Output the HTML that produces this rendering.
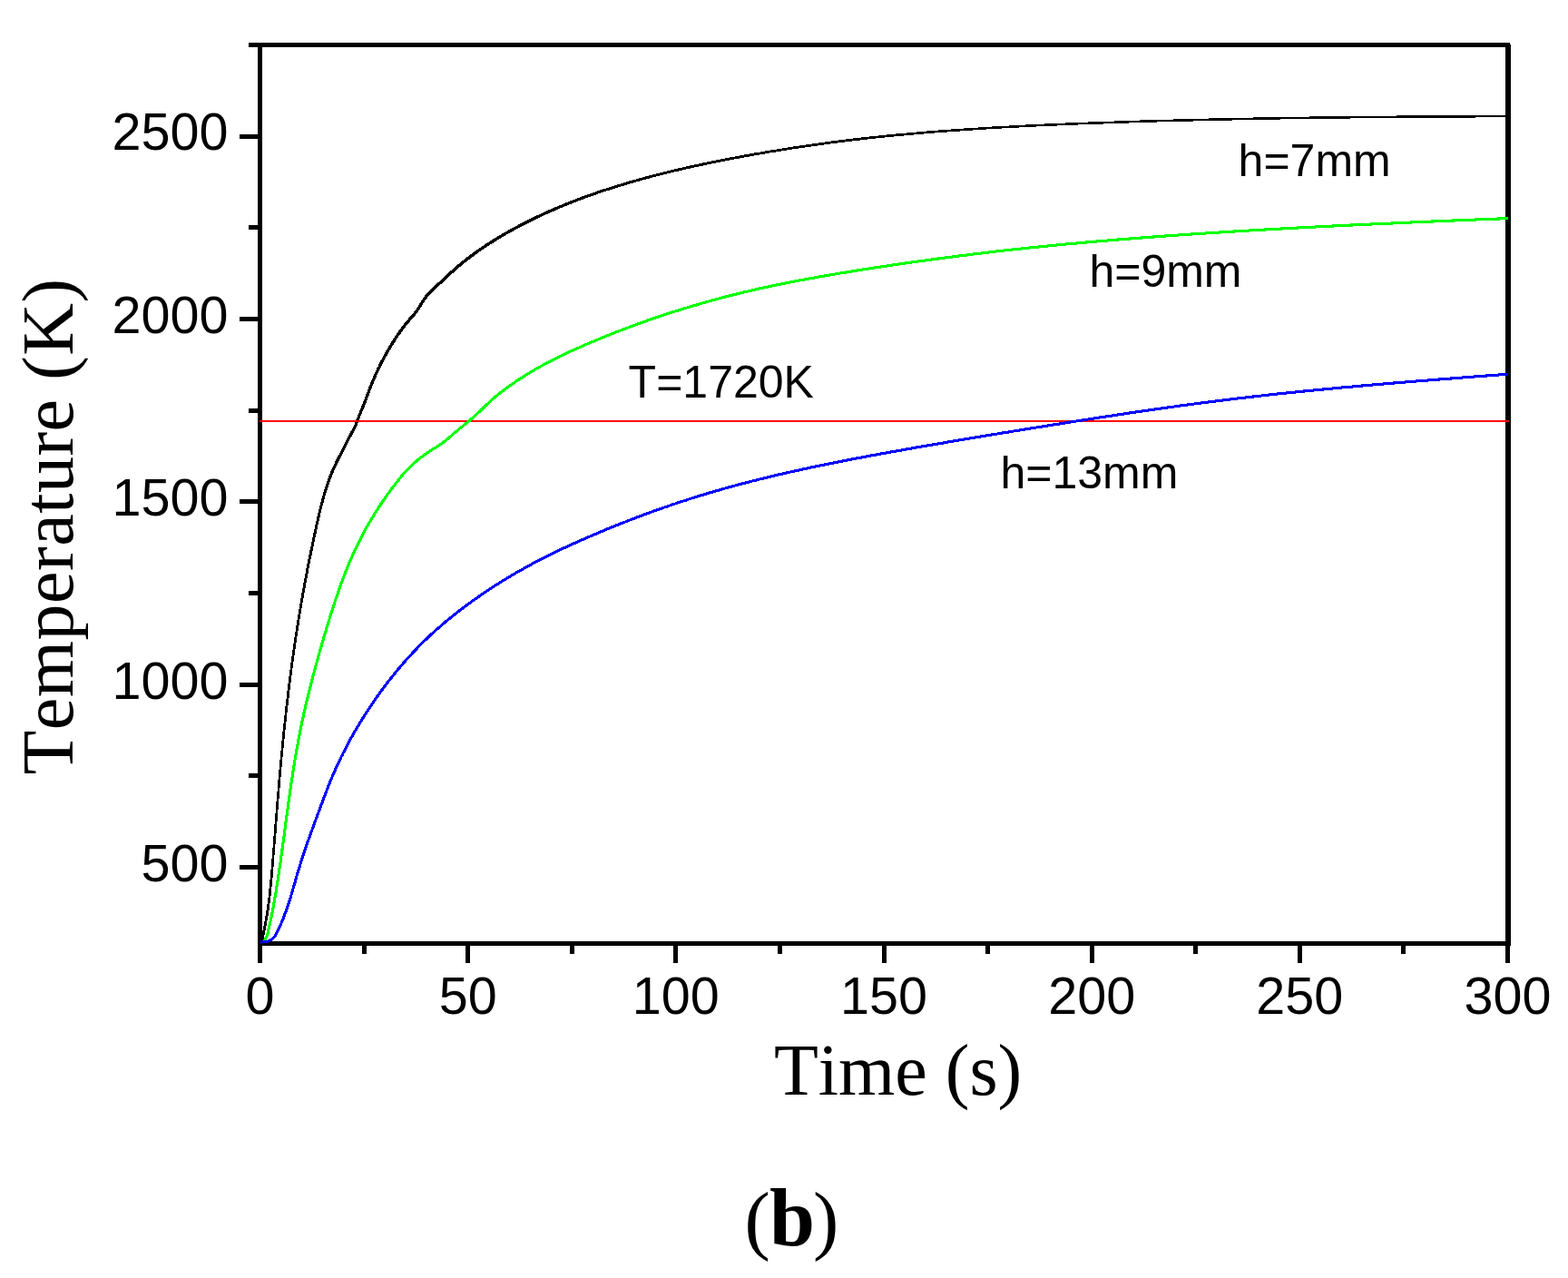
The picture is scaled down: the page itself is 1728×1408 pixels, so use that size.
<!DOCTYPE html>
<html lang="en">
<head>
<meta charset="utf-8">
<title>Temperature vs Time (b)</title>
<style>
html,body{margin:0;padding:0;background:#fff;}
body{width:1728px;height:1408px;overflow:hidden;}
svg{display:block;}
.tick{font-family:"Liberation Sans",Arial,Helvetica,sans-serif;font-size:57.5px;fill:#000;}
.ann{font-family:"Liberation Sans",Arial,Helvetica,sans-serif;font-size:50px;fill:#000;}
.axl{font-family:"Liberation Serif","Times New Roman",Times,serif;font-size:80px;fill:#000;font-kerning:none;}
.cap{font-family:"Liberation Serif","Times New Roman",Times,serif;font-size:86px;fill:#000;}
</style>
</head>
<body>
<svg xmlns="http://www.w3.org/2000/svg" width="1728" height="1408" viewBox="0 0 1728 1408">
<rect x="0" y="0" width="1728" height="1408" fill="#ffffff"/>
<g fill="#000" shape-rendering="crispEdges">
<rect x="284" y="47" width="5" height="1014"/>
<rect x="274" y="47" width="1390" height="5"/>
<rect x="284" y="1037" width="1381" height="5"/>
<rect x="1659" y="49" width="6" height="991"/>
<rect x="284" y="1040" width="5" height="21"/>
<rect x="399" y="1040" width="5" height="11"/>
<rect x="513" y="1040" width="5" height="21"/>
<rect x="628" y="1040" width="5" height="11"/>
<rect x="742" y="1040" width="5" height="21"/>
<rect x="857" y="1040" width="5" height="11"/>
<rect x="972" y="1040" width="5" height="21"/>
<rect x="1086" y="1040" width="5" height="11"/>
<rect x="1201" y="1040" width="5" height="21"/>
<rect x="1315" y="1040" width="5" height="11"/>
<rect x="1430" y="1040" width="5" height="21"/>
<rect x="1544" y="1040" width="5" height="11"/>
<rect x="1659" y="1040" width="5" height="21"/>
<rect x="264" y="953" width="22" height="5"/>
<rect x="274" y="852" width="12" height="5"/>
<rect x="264" y="752" width="22" height="5"/>
<rect x="274" y="651" width="12" height="5"/>
<rect x="264" y="550" width="22" height="5"/>
<rect x="274" y="450" width="12" height="5"/>
<rect x="264" y="349" width="22" height="5"/>
<rect x="274" y="248" width="12" height="5"/>
<rect x="264" y="148" width="22" height="5"/>
<rect x="274" y="47" width="12" height="5"/>
</g>
<g fill="none" stroke-linejoin="round" stroke-linecap="butt" shape-rendering="crispEdges">
<path fill="#000000" stroke="none" d="M287.4,1038.8 L287.4,1036.3 L287.9,1033.5 L288.4,1030.7 L288.9,1027.9 L289.4,1025.1 L290.0,1022.3 L290.5,1019.6 L291.1,1016.8 L291.6,1014.0 L292.1,1011.2 L292.6,1008.4 L293.1,1005.6 L293.5,1002.9 L294.0,1000.1 L294.4,997.3 L294.7,994.4 L295.1,991.6 L295.5,988.8 L295.8,986.0 L296.1,983.2 L296.4,980.4 L296.7,977.6 L297.0,974.8 L297.3,971.9 L297.5,969.1 L297.8,966.3 L298.1,963.5 L298.3,960.7 L298.5,957.8 L298.8,955.0 L299.0,952.2 L299.2,949.4 L299.5,946.5 L299.7,943.7 L299.9,940.9 L300.2,938.1 L300.4,935.3 L300.6,932.4 L300.8,929.6 L301.1,926.8 L301.3,924.0 L301.5,921.1 L301.7,918.3 L302.0,915.5 L302.2,912.7 L302.4,909.9 L302.6,907.0 L302.9,904.2 L303.1,901.4 L303.3,898.6 L303.5,895.8 L303.8,892.9 L304.0,890.1 L304.2,887.3 L304.4,884.5 L304.7,881.7 L304.9,878.8 L305.1,876.0 L305.4,873.2 L305.6,870.4 L305.8,867.6 L306.1,864.7 L306.3,861.9 L306.5,859.1 L306.8,856.3 L307.0,853.5 L307.3,850.6 L307.5,847.8 L307.8,845.0 L308.0,842.2 L308.3,839.4 L308.6,836.5 L308.8,833.7 L309.1,830.9 L309.4,828.1 L309.6,825.3 L309.9,822.4 L310.2,819.6 L310.4,816.8 L310.7,814.0 L311.0,811.2 L311.3,808.3 L311.6,805.5 L311.9,802.7 L312.2,799.9 L312.5,797.1 L312.8,794.3 L313.1,791.4 L313.4,788.6 L313.7,785.8 L314.0,783.0 L314.3,780.2 L314.6,777.4 L315.0,774.5 L315.3,771.7 L315.6,768.9 L316.0,766.1 L316.3,763.3 L316.6,760.5 L317.0,757.7 L317.3,754.9 L317.7,752.0 L318.0,749.2 L318.4,746.4 L318.7,743.6 L319.1,740.8 L319.5,738.0 L319.8,735.2 L320.2,732.4 L320.6,729.6 L321.0,726.8 L321.4,724.0 L321.8,721.2 L322.2,718.4 L322.6,715.6 L323.0,712.7 L323.4,709.9 L323.8,707.1 L324.2,704.3 L324.6,701.5 L325.0,698.7 L325.5,696.0 L325.9,693.2 L326.3,690.4 L326.8,687.6 L327.2,684.8 L327.7,682.0 L328.1,679.2 L328.6,676.4 L329.0,673.6 L329.5,670.8 L330.0,668.0 L330.4,665.2 L330.9,662.5 L331.4,659.7 L331.9,656.9 L332.4,654.1 L332.9,651.3 L333.4,648.5 L333.9,645.8 L334.4,643.0 L334.9,640.2 L335.4,637.4 L336.0,634.6 L336.5,631.9 L337.0,629.1 L337.5,626.3 L338.1,623.5 L338.6,620.8 L339.2,618.0 L339.7,615.2 L340.3,612.4 L340.9,609.7 L341.4,606.9 L342.0,604.1 L342.6,601.3 L343.1,598.6 L343.7,595.8 L344.3,593.0 L344.9,590.3 L345.5,587.5 L346.1,584.7 L346.7,581.9 L347.3,579.2 L347.9,576.4 L348.5,573.6 L349.2,570.9 L349.8,568.1 L350.4,565.3 L351.1,562.6 L351.8,559.8 L352.4,557.1 L353.1,554.3 L353.9,551.6 L354.6,548.9 L355.4,546.1 L356.1,543.4 L356.9,540.7 L357.8,538.0 L358.6,535.3 L359.5,532.6 L360.5,530.0 L361.4,527.3 L362.4,524.7 L363.5,522.0 L364.5,519.4 L365.6,516.8 L366.8,514.2 L368.0,511.6 L369.2,509.1 L370.4,506.5 L371.7,504.0 L373.0,501.5 L374.3,499.0 L375.7,496.5 L377.0,494.0 L378.2,491.5 L379.4,488.9 L380.7,486.3 L381.9,483.8 L383.2,481.3 L384.6,478.8 L386.0,476.4 L387.4,473.9 L388.8,471.4 L390.0,468.9 L391.1,466.3 L392.1,463.6 L393.0,461.0 L394.0,458.3 L395.0,455.7 L396.1,453.1 L397.2,450.4 L398.3,447.8 L399.4,445.2 L400.4,442.6 L401.4,440.0 L402.4,437.3 L403.4,434.7 L404.4,432.0 L405.4,429.4 L406.4,426.8 L407.4,424.1 L408.5,421.5 L409.6,418.9 L410.7,416.3 L411.8,413.7 L412.9,411.1 L414.1,408.5 L415.3,405.9 L416.6,403.4 L417.8,400.8 L419.1,398.3 L420.4,395.8 L421.7,393.3 L423.1,390.8 L424.5,388.3 L425.9,385.8 L427.3,383.4 L428.7,381.0 L430.2,378.5 L431.7,376.1 L433.2,373.8 L434.7,371.4 L436.3,369.0 L437.8,366.7 L439.5,364.4 L441.1,362.1 L442.8,359.9 L444.5,357.6 L446.2,355.4 L448.0,353.2 L449.9,351.1 L451.7,348.9 L453.6,346.8 L455.5,344.6 L457.2,342.4 L458.9,340.1 L460.5,337.8 L462.0,335.3 L463.4,332.9 L464.9,330.5 L466.5,328.1 L468.1,325.9 L469.9,323.7 L471.8,321.6 L473.8,319.6 L475.8,317.6 L477.9,315.6 L480.0,313.7 L482.1,311.8 L484.2,309.9 L486.3,307.9 L488.3,306.0 L490.4,304.1 L492.5,302.2 L494.6,300.2 L496.7,298.3 L498.8,296.5 L500.9,294.6 L503.0,292.7 L505.2,290.9 L507.4,289.1 L509.6,287.3 L511.8,285.5 L514.0,283.8 L516.2,282.1 L518.5,280.4 L520.8,278.7 L523.1,277.0 L525.4,275.4 L527.7,273.8 L530.0,272.2 L532.4,270.6 L534.7,269.0 L537.1,267.5 L539.5,266.0 L541.9,264.5 L544.3,263.0 L546.7,261.5 L549.2,260.0 L551.6,258.6 L554.0,257.1 L556.5,255.7 L559.0,254.3 L561.4,252.9 L563.9,251.6 L566.4,250.2 L568.9,248.9 L571.4,247.5 L573.9,246.2 L576.4,244.9 L578.9,243.6 L581.4,242.4 L584.0,241.1 L586.5,239.9 L589.1,238.6 L591.6,237.4 L594.2,236.2 L596.7,235.0 L599.3,233.8 L601.9,232.7 L604.5,231.5 L607.1,230.4 L609.7,229.3 L612.3,228.1 L614.9,227.0 L617.5,225.9 L620.1,224.9 L622.7,223.8 L625.4,222.7 L628.0,221.7 L630.6,220.7 L633.3,219.6 L635.9,218.6 L638.6,217.6 L641.2,216.6 L643.9,215.7 L646.5,214.7 L649.2,213.7 L651.9,212.8 L654.6,211.9 L657.2,210.9 L659.9,210.0 L662.6,209.1 L665.3,208.2 L668.0,207.4 L670.7,206.5 L673.4,205.6 L676.1,204.8 L678.8,203.9 L681.5,203.1 L684.2,202.3 L686.9,201.4 L689.6,200.6 L692.3,199.8 L695.0,199.0 L697.8,198.3 L700.5,197.5 L703.2,196.7 L705.9,196.0 L708.7,195.2 L711.4,194.5 L714.1,193.7 L716.9,193.0 L719.6,192.3 L722.3,191.6 L725.1,190.9 L727.8,190.2 L730.6,189.5 L733.3,188.8 L736.1,188.2 L738.8,187.5 L741.6,186.8 L744.3,186.2 L747.1,185.5 L749.9,184.9 L752.6,184.3 L755.4,183.6 L758.1,183.0 L760.9,182.4 L763.7,181.8 L766.4,181.2 L769.2,180.6 L772.0,180.0 L774.7,179.4 L777.5,178.8 L780.3,178.3 L783.1,177.7 L785.8,177.1 L788.6,176.6 L791.4,176.0 L794.2,175.5 L796.9,174.9 L799.7,174.4 L802.5,173.9 L805.3,173.3 L808.1,172.8 L810.8,172.3 L813.6,171.8 L816.4,171.2 L819.2,170.7 L822.0,170.2 L824.8,169.7 L827.6,169.2 L830.3,168.7 L833.1,168.2 L835.9,167.8 L838.7,167.3 L841.5,166.8 L844.3,166.3 L847.1,165.8 L849.9,165.4 L852.7,164.9 L855.5,164.5 L858.3,164.0 L861.1,163.6 L863.9,163.1 L866.6,162.7 L869.4,162.2 L872.2,161.8 L875.0,161.4 L877.8,160.9 L880.6,160.5 L883.4,160.1 L886.2,159.7 L889.0,159.3 L891.8,158.9 L894.7,158.5 L897.5,158.1 L900.3,157.7 L903.1,157.3 L905.9,156.9 L908.7,156.5 L911.5,156.2 L914.3,155.8 L917.1,155.4 L919.9,155.1 L922.7,154.7 L925.5,154.3 L928.3,154.0 L931.1,153.7 L933.9,153.3 L936.8,153.0 L939.6,152.6 L942.4,152.3 L945.2,152.0 L948.0,151.7 L950.8,151.3 L953.6,151.0 L956.4,150.7 L959.3,150.4 L962.1,150.1 L964.9,149.8 L967.7,149.5 L970.5,149.2 L973.3,148.9 L976.2,148.6 L979.0,148.3 L981.8,148.1 L984.6,147.8 L987.4,147.5 L990.2,147.2 L993.1,147.0 L995.9,146.7 L998.7,146.5 L1001.5,146.2 L1004.3,146.0 L1007.2,145.7 L1010.0,145.5 L1012.8,145.2 L1015.6,145.0 L1018.4,144.7 L1021.3,144.5 L1024.1,144.3 L1026.9,144.1 L1029.7,143.8 L1032.6,143.6 L1035.4,143.4 L1038.2,143.2 L1041.0,143.0 L1043.8,142.8 L1046.7,142.6 L1049.5,142.3 L1052.3,142.1 L1055.1,142.0 L1058.0,141.8 L1060.8,141.6 L1063.6,141.4 L1066.4,141.2 L1069.3,141.0 L1072.1,140.8 L1074.9,140.6 L1077.7,140.5 L1080.6,140.3 L1083.4,140.1 L1086.2,139.9 L1089.1,139.8 L1091.9,139.6 L1094.7,139.4 L1097.5,139.3 L1100.4,139.1 L1103.2,138.9 L1106.0,138.8 L1108.8,138.6 L1111.7,138.5 L1114.5,138.3 L1117.3,138.2 L1120.1,138.0 L1123.0,137.9 L1125.8,137.7 L1128.6,137.6 L1131.5,137.4 L1134.3,137.3 L1137.1,137.2 L1139.9,137.0 L1142.8,136.9 L1145.6,136.8 L1148.4,136.6 L1151.3,136.5 L1154.1,136.4 L1156.9,136.2 L1159.7,136.1 L1162.6,136.0 L1165.4,135.9 L1168.2,135.7 L1171.1,135.6 L1173.9,135.5 L1176.7,135.4 L1179.5,135.3 L1182.4,135.2 L1185.2,135.0 L1188.0,134.9 L1190.9,134.8 L1193.7,134.7 L1196.5,134.6 L1199.3,134.5 L1202.2,134.4 L1205.0,134.3 L1207.8,134.2 L1210.7,134.1 L1213.5,134.0 L1216.3,133.9 L1219.1,133.8 L1222.0,133.7 L1224.8,133.6 L1227.6,133.5 L1230.5,133.4 L1233.3,133.3 L1236.1,133.2 L1239.0,133.1 L1241.8,133.0 L1244.6,132.9 L1247.4,132.8 L1250.3,132.7 L1253.1,132.6 L1255.9,132.5 L1258.8,132.4 L1261.6,132.4 L1264.4,132.3 L1267.3,132.2 L1270.1,132.1 L1272.9,132.0 L1275.7,131.9 L1278.6,131.9 L1281.4,131.8 L1284.2,131.7 L1287.1,131.6 L1289.9,131.5 L1292.7,131.5 L1295.6,131.4 L1298.4,131.3 L1301.2,131.2 L1304.0,131.2 L1306.9,131.1 L1309.7,131.0 L1312.5,131.0 L1315.4,130.9 L1318.2,130.8 L1321.0,130.7 L1323.9,130.7 L1326.7,130.6 L1329.5,130.5 L1332.3,130.5 L1335.2,130.4 L1338.0,130.3 L1340.8,130.3 L1343.7,130.2 L1346.5,130.2 L1349.3,130.1 L1352.2,130.0 L1355.0,130.0 L1357.8,129.9 L1360.7,129.9 L1363.5,129.8 L1366.3,129.8 L1369.1,129.7 L1372.0,129.6 L1374.8,129.6 L1377.6,129.5 L1380.5,129.5 L1383.3,129.4 L1386.1,129.4 L1389.0,129.3 L1391.8,129.3 L1394.6,129.2 L1397.5,129.2 L1400.3,129.1 L1403.1,129.1 L1405.9,129.0 L1408.8,129.0 L1411.6,128.9 L1414.4,128.9 L1417.3,128.9 L1420.1,128.8 L1422.9,128.8 L1425.8,128.7 L1428.6,128.7 L1431.4,128.6 L1434.3,128.6 L1437.1,128.6 L1439.9,128.5 L1442.7,128.5 L1445.6,128.4 L1448.4,128.4 L1451.2,128.4 L1454.1,128.3 L1456.9,128.3 L1459.7,128.3 L1462.6,128.2 L1465.4,128.2 L1468.2,128.2 L1471.1,128.1 L1473.9,128.1 L1476.7,128.1 L1479.6,128.0 L1482.4,128.0 L1485.2,128.0 L1488.0,127.9 L1490.9,127.9 L1493.7,127.9 L1496.5,127.8 L1499.4,127.8 L1502.2,127.8 L1505.0,127.8 L1507.9,127.7 L1510.7,127.7 L1513.5,127.7 L1516.4,127.7 L1519.2,127.6 L1522.0,127.6 L1524.9,127.6 L1527.7,127.6 L1530.5,127.5 L1533.3,127.5 L1536.2,127.5 L1539.0,127.5 L1541.8,127.4 L1544.7,127.4 L1547.5,127.4 L1550.3,127.4 L1553.2,127.4 L1556.0,127.3 L1558.8,127.3 L1561.7,127.3 L1564.5,127.3 L1567.3,127.3 L1570.2,127.2 L1573.0,127.2 L1575.8,127.2 L1578.6,127.2 L1581.5,127.2 L1584.3,127.2 L1587.1,127.1 L1590.0,127.1 L1592.8,127.1 L1595.6,127.1 L1598.5,127.1 L1601.3,127.1 L1604.1,127.0 L1607.0,127.0 L1609.8,127.0 L1612.6,127.0 L1615.5,127.0 L1618.3,127.0 L1621.1,127.0 L1623.9,127.0 L1626.8,126.9 L1629.6,126.9 L1632.4,126.9 L1635.3,126.9 L1638.1,126.9 L1640.9,126.9 L1643.8,126.9 L1646.6,126.9 L1649.4,126.8 L1652.3,126.8 L1655.1,126.8 L1657.9,126.8 L1660.7,126.8 L1663.2,126.8 L1663.2,129.3 L1660.4,129.3 L1657.6,129.3 L1654.8,129.3 L1651.9,129.3 L1649.1,129.4 L1646.3,129.4 L1643.4,129.4 L1640.6,129.4 L1637.8,129.4 L1634.9,129.4 L1632.1,129.4 L1629.3,129.4 L1626.4,129.5 L1623.6,129.5 L1620.8,129.5 L1618.0,129.5 L1615.1,129.5 L1612.3,129.5 L1609.5,129.5 L1606.6,129.5 L1603.8,129.6 L1601.0,129.6 L1598.1,129.6 L1595.3,129.6 L1592.5,129.6 L1589.6,129.6 L1586.8,129.7 L1584.0,129.7 L1581.1,129.7 L1578.3,129.7 L1575.5,129.7 L1572.7,129.7 L1569.8,129.8 L1567.0,129.8 L1564.2,129.8 L1561.3,129.8 L1558.5,129.8 L1555.7,129.9 L1552.8,129.9 L1550.0,129.9 L1547.2,129.9 L1544.3,129.9 L1541.5,130.0 L1538.7,130.0 L1535.8,130.0 L1533.0,130.0 L1530.2,130.1 L1527.4,130.1 L1524.5,130.1 L1521.7,130.1 L1518.9,130.2 L1516.0,130.2 L1513.2,130.2 L1510.4,130.2 L1507.5,130.3 L1504.7,130.3 L1501.9,130.3 L1499.0,130.3 L1496.2,130.4 L1493.4,130.4 L1490.5,130.4 L1487.7,130.5 L1484.9,130.5 L1482.1,130.5 L1479.2,130.6 L1476.4,130.6 L1473.6,130.6 L1470.7,130.7 L1467.9,130.7 L1465.1,130.7 L1462.2,130.8 L1459.4,130.8 L1456.6,130.8 L1453.7,130.9 L1450.9,130.9 L1448.1,130.9 L1445.2,131.0 L1442.4,131.0 L1439.6,131.1 L1436.8,131.1 L1433.9,131.1 L1431.1,131.2 L1428.3,131.2 L1425.4,131.3 L1422.6,131.3 L1419.8,131.4 L1416.9,131.4 L1414.1,131.4 L1411.3,131.5 L1408.4,131.5 L1405.6,131.6 L1402.8,131.6 L1400.0,131.7 L1397.1,131.7 L1394.3,131.8 L1391.5,131.8 L1388.6,131.9 L1385.8,131.9 L1383.0,132.0 L1380.1,132.0 L1377.3,132.1 L1374.5,132.1 L1371.6,132.2 L1368.8,132.3 L1366.0,132.3 L1363.2,132.4 L1360.3,132.4 L1357.5,132.5 L1354.7,132.5 L1351.8,132.6 L1349.0,132.7 L1346.2,132.7 L1343.3,132.8 L1340.5,132.8 L1337.7,132.9 L1334.8,133.0 L1332.0,133.0 L1329.2,133.1 L1326.4,133.2 L1323.5,133.2 L1320.7,133.3 L1317.9,133.4 L1315.0,133.5 L1312.2,133.5 L1309.4,133.6 L1306.5,133.7 L1303.7,133.7 L1300.9,133.8 L1298.1,133.9 L1295.2,134.0 L1292.4,134.0 L1289.6,134.1 L1286.7,134.2 L1283.9,134.3 L1281.1,134.4 L1278.2,134.4 L1275.4,134.5 L1272.6,134.6 L1269.8,134.7 L1266.9,134.8 L1264.1,134.9 L1261.3,134.9 L1258.4,135.0 L1255.6,135.1 L1252.8,135.2 L1249.9,135.3 L1247.1,135.4 L1244.3,135.5 L1241.5,135.6 L1238.6,135.7 L1235.8,135.8 L1233.0,135.9 L1230.1,136.0 L1227.3,136.1 L1224.5,136.2 L1221.6,136.3 L1218.8,136.4 L1216.0,136.5 L1213.2,136.6 L1210.3,136.7 L1207.5,136.8 L1204.7,136.9 L1201.8,137.0 L1199.0,137.1 L1196.2,137.2 L1193.4,137.3 L1190.5,137.4 L1187.7,137.5 L1184.9,137.7 L1182.0,137.8 L1179.2,137.9 L1176.4,138.0 L1173.6,138.1 L1170.7,138.2 L1167.9,138.4 L1165.1,138.5 L1162.2,138.6 L1159.4,138.7 L1156.6,138.9 L1153.8,139.0 L1150.9,139.1 L1148.1,139.3 L1145.3,139.4 L1142.4,139.5 L1139.6,139.7 L1136.8,139.8 L1134.0,139.9 L1131.1,140.1 L1128.3,140.2 L1125.5,140.4 L1122.6,140.5 L1119.8,140.7 L1117.0,140.8 L1114.2,141.0 L1111.3,141.1 L1108.5,141.3 L1105.7,141.4 L1102.9,141.6 L1100.0,141.8 L1097.2,141.9 L1094.4,142.1 L1091.6,142.3 L1088.7,142.4 L1085.9,142.6 L1083.1,142.8 L1080.2,143.0 L1077.4,143.1 L1074.6,143.3 L1071.8,143.5 L1068.9,143.7 L1066.1,143.9 L1063.3,144.1 L1060.5,144.3 L1057.6,144.5 L1054.8,144.6 L1052.0,144.8 L1049.2,145.1 L1046.3,145.3 L1043.5,145.5 L1040.7,145.7 L1037.9,145.9 L1035.1,146.1 L1032.2,146.3 L1029.4,146.6 L1026.6,146.8 L1023.8,147.0 L1020.9,147.2 L1018.1,147.5 L1015.3,147.7 L1012.5,148.0 L1009.7,148.2 L1006.8,148.5 L1004.0,148.7 L1001.2,149.0 L998.4,149.2 L995.6,149.5 L992.7,149.7 L989.9,150.0 L987.1,150.3 L984.3,150.6 L981.5,150.8 L978.7,151.1 L975.8,151.4 L973.0,151.7 L970.2,152.0 L967.4,152.3 L964.6,152.6 L961.8,152.9 L958.9,153.2 L956.1,153.5 L953.3,153.8 L950.5,154.2 L947.7,154.5 L944.9,154.8 L942.1,155.1 L939.3,155.5 L936.4,155.8 L933.6,156.2 L930.8,156.5 L928.0,156.8 L925.2,157.2 L922.4,157.6 L919.6,157.9 L916.8,158.3 L914.0,158.7 L911.2,159.0 L908.4,159.4 L905.6,159.8 L902.8,160.2 L900.0,160.6 L897.2,161.0 L894.3,161.4 L891.5,161.8 L888.7,162.2 L885.9,162.6 L883.1,163.0 L880.3,163.4 L877.5,163.9 L874.7,164.3 L871.9,164.7 L869.1,165.2 L866.4,165.6 L863.6,166.1 L860.8,166.5 L858.0,167.0 L855.2,167.4 L852.4,167.9 L849.6,168.3 L846.8,168.8 L844.0,169.3 L841.2,169.8 L838.4,170.3 L835.6,170.7 L832.8,171.2 L830.1,171.7 L827.3,172.2 L824.5,172.7 L821.7,173.2 L818.9,173.7 L816.1,174.3 L813.3,174.8 L810.6,175.3 L807.8,175.8 L805.0,176.4 L802.2,176.9 L799.4,177.4 L796.7,178.0 L793.9,178.5 L791.1,179.1 L788.3,179.6 L785.6,180.2 L782.8,180.8 L780.0,181.3 L777.2,181.9 L774.5,182.5 L771.7,183.1 L768.9,183.7 L766.2,184.3 L763.4,184.9 L760.6,185.5 L757.9,186.1 L755.1,186.8 L752.4,187.4 L749.6,188.0 L746.8,188.7 L744.1,189.3 L741.3,190.0 L738.6,190.7 L735.8,191.3 L733.1,192.0 L730.3,192.7 L727.6,193.4 L724.8,194.1 L722.1,194.8 L719.4,195.5 L716.6,196.2 L713.9,197.0 L711.2,197.7 L708.4,198.5 L705.7,199.2 L703.0,200.0 L700.3,200.8 L697.5,201.5 L694.8,202.3 L692.1,203.1 L689.4,203.9 L686.7,204.8 L684.0,205.6 L681.3,206.4 L678.6,207.3 L675.9,208.1 L673.2,209.0 L670.5,209.9 L667.8,210.7 L665.1,211.6 L662.4,212.5 L659.7,213.4 L657.1,214.4 L654.4,215.3 L651.7,216.2 L649.0,217.2 L646.4,218.2 L643.7,219.1 L641.1,220.1 L638.4,221.1 L635.8,222.1 L633.1,223.2 L630.5,224.2 L627.9,225.2 L625.2,226.3 L622.6,227.4 L620.0,228.4 L617.4,229.5 L614.8,230.6 L612.2,231.8 L609.6,232.9 L607.0,234.0 L604.4,235.2 L601.8,236.3 L599.2,237.5 L596.7,238.7 L594.1,239.9 L591.6,241.1 L589.0,242.4 L586.5,243.6 L583.9,244.9 L581.4,246.1 L578.9,247.4 L576.4,248.7 L573.9,250.0 L571.4,251.4 L568.9,252.7 L566.4,254.1 L563.9,255.4 L561.5,256.8 L559.0,258.2 L556.5,259.6 L554.1,261.1 L551.7,262.5 L549.2,264.0 L546.8,265.5 L544.4,267.0 L542.0,268.5 L539.6,270.0 L537.2,271.5 L534.9,273.1 L532.5,274.7 L530.2,276.3 L527.9,277.9 L525.6,279.5 L523.3,281.2 L521.0,282.9 L518.7,284.6 L516.5,286.3 L514.3,288.0 L512.1,289.8 L509.9,291.6 L507.7,293.4 L505.5,295.2 L503.4,297.1 L501.3,299.0 L499.2,300.8 L497.1,302.7 L495.0,304.7 L492.9,306.6 L490.8,308.5 L488.8,310.4 L486.7,312.4 L484.6,314.3 L482.5,316.2 L480.4,318.1 L478.3,320.1 L476.3,322.1 L474.3,324.1 L472.4,326.2 L470.6,328.4 L469.0,330.6 L467.4,333.0 L465.9,335.4 L464.5,337.8 L463.0,340.3 L461.4,342.6 L459.7,344.9 L458.0,347.1 L456.1,349.3 L454.2,351.4 L452.4,353.6 L450.5,355.7 L448.7,357.9 L447.0,360.1 L445.3,362.4 L443.6,364.6 L442.0,366.9 L440.3,369.2 L438.8,371.5 L437.2,373.9 L435.7,376.3 L434.2,378.6 L432.7,381.0 L431.2,383.5 L429.8,385.9 L428.4,388.3 L427.0,390.8 L425.6,393.3 L424.2,395.8 L422.9,398.3 L421.6,400.8 L420.3,403.3 L419.1,405.9 L417.8,408.4 L416.6,411.0 L415.4,413.6 L414.3,416.2 L413.2,418.8 L412.1,421.4 L411.0,424.0 L409.9,426.6 L408.9,429.3 L407.9,431.9 L406.9,434.5 L405.9,437.2 L404.9,439.8 L403.9,442.5 L402.9,445.1 L401.9,447.7 L400.8,450.3 L399.7,452.9 L398.6,455.6 L397.5,458.2 L396.5,460.8 L395.5,463.5 L394.6,466.1 L393.6,468.8 L392.5,471.4 L391.3,473.9 L389.9,476.4 L388.5,478.9 L387.1,481.3 L385.7,483.8 L384.4,486.3 L383.2,488.8 L381.9,491.4 L380.7,494.0 L379.5,496.5 L378.2,499.0 L376.8,501.5 L375.5,504.0 L374.2,506.5 L372.9,509.0 L371.7,511.6 L370.5,514.1 L369.3,516.7 L368.1,519.3 L367.0,521.9 L366.0,524.5 L364.9,527.2 L363.9,529.8 L363.0,532.5 L362.0,535.1 L361.1,537.8 L360.3,540.5 L359.4,543.2 L358.6,545.9 L357.9,548.6 L357.1,551.4 L356.4,554.1 L355.6,556.8 L354.9,559.6 L354.3,562.3 L353.6,565.1 L352.9,567.8 L352.3,570.6 L351.7,573.4 L351.0,576.1 L350.4,578.9 L349.8,581.7 L349.2,584.4 L348.6,587.2 L348.0,590.0 L347.4,592.8 L346.8,595.5 L346.2,598.3 L345.6,601.1 L345.1,603.8 L344.5,606.6 L343.9,609.4 L343.4,612.2 L342.8,614.9 L342.2,617.7 L341.7,620.5 L341.1,623.3 L340.6,626.0 L340.0,628.8 L339.5,631.6 L339.0,634.4 L338.5,637.1 L337.9,639.9 L337.4,642.7 L336.9,645.5 L336.4,648.3 L335.9,651.0 L335.4,653.8 L334.9,656.6 L334.4,659.4 L333.9,662.2 L333.4,665.0 L332.9,667.7 L332.5,670.5 L332.0,673.3 L331.5,676.1 L331.1,678.9 L330.6,681.7 L330.2,684.5 L329.7,687.3 L329.3,690.1 L328.8,692.9 L328.4,695.7 L328.0,698.5 L327.5,701.2 L327.1,704.0 L326.7,706.8 L326.3,709.6 L325.9,712.4 L325.5,715.2 L325.1,718.1 L324.7,720.9 L324.3,723.7 L323.9,726.5 L323.5,729.3 L323.1,732.1 L322.7,734.9 L322.3,737.7 L322.0,740.5 L321.6,743.3 L321.2,746.1 L320.9,748.9 L320.5,751.7 L320.2,754.5 L319.8,757.4 L319.5,760.2 L319.1,763.0 L318.8,765.8 L318.5,768.6 L318.1,771.4 L317.8,774.2 L317.5,777.0 L317.1,779.9 L316.8,782.7 L316.5,785.5 L316.2,788.3 L315.9,791.1 L315.6,793.9 L315.3,796.8 L315.0,799.6 L314.7,802.4 L314.4,805.2 L314.1,808.0 L313.8,810.8 L313.5,813.7 L313.2,816.5 L312.9,819.3 L312.7,822.1 L312.4,824.9 L312.1,827.8 L311.9,830.6 L311.6,833.4 L311.3,836.2 L311.1,839.0 L310.8,841.9 L310.5,844.7 L310.3,847.5 L310.0,850.3 L309.8,853.1 L309.5,856.0 L309.3,858.8 L309.0,861.6 L308.8,864.4 L308.6,867.2 L308.3,870.1 L308.1,872.9 L307.9,875.7 L307.6,878.5 L307.4,881.3 L307.2,884.2 L306.9,887.0 L306.7,889.8 L306.5,892.6 L306.3,895.4 L306.0,898.3 L305.8,901.1 L305.6,903.9 L305.4,906.7 L305.1,909.5 L304.9,912.4 L304.7,915.2 L304.5,918.0 L304.2,920.8 L304.0,923.6 L303.8,926.5 L303.6,929.3 L303.3,932.1 L303.1,934.9 L302.9,937.8 L302.7,940.6 L302.4,943.4 L302.2,946.2 L302.0,949.0 L301.7,951.9 L301.5,954.7 L301.3,957.5 L301.0,960.3 L300.8,963.2 L300.6,966.0 L300.3,968.8 L300.0,971.6 L299.8,974.4 L299.5,977.3 L299.2,980.1 L298.9,982.9 L298.6,985.7 L298.3,988.5 L298.0,991.3 L297.6,994.1 L297.2,996.9 L296.9,999.8 L296.5,1002.6 L296.0,1005.4 L295.6,1008.1 L295.1,1010.9 L294.6,1013.7 L294.1,1016.5 L293.6,1019.3 L293.0,1022.1 L292.5,1024.8 L291.9,1027.6 L291.4,1030.4 L290.9,1033.2 L290.4,1036.0 L289.9,1038.8 Z"/>
<path stroke="#ff0000" stroke-width="2" d="M286,464 L1663,464"/>
<path stroke="#00ff00" stroke-width="3.1" d="M290.0,1037.5 L291.8,1035.6 L293.1,1033.4 L294.1,1031.1 L294.9,1028.6 L295.5,1026.1 L296.1,1023.5 L296.6,1020.9 L297.2,1018.4 L297.8,1015.8 L298.4,1013.3 L299.0,1010.7 L299.5,1008.2 L300.0,1005.6 L300.5,1003.1 L301.0,1000.5 L301.5,998.0 L301.9,995.4 L302.4,992.8 L302.8,990.3 L303.2,987.7 L303.7,985.1 L304.1,982.5 L304.5,980.0 L304.9,977.4 L305.3,974.8 L305.7,972.2 L306.1,969.7 L306.5,967.1 L306.9,964.5 L307.3,961.9 L307.7,959.3 L308.0,956.8 L308.4,954.2 L308.8,951.6 L309.2,949.0 L309.5,946.4 L309.9,943.8 L310.2,941.3 L310.6,938.7 L311.0,936.1 L311.3,933.5 L311.7,930.9 L312.0,928.3 L312.4,925.7 L312.7,923.1 L313.1,920.6 L313.4,918.0 L313.8,915.4 L314.1,912.8 L314.4,910.2 L314.8,907.6 L315.1,905.0 L315.5,902.4 L315.8,899.8 L316.2,897.2 L316.5,894.7 L316.9,892.1 L317.2,889.5 L317.6,886.9 L317.9,884.3 L318.3,881.7 L318.7,879.1 L319.0,876.5 L319.4,874.0 L319.8,871.4 L320.1,868.8 L320.5,866.2 L320.9,863.6 L321.3,861.0 L321.7,858.5 L322.1,855.9 L322.4,853.3 L322.8,850.7 L323.3,848.1 L323.7,845.6 L324.1,843.0 L324.5,840.4 L324.9,837.8 L325.3,835.3 L325.8,832.7 L326.2,830.1 L326.7,827.6 L327.1,825.0 L327.6,822.4 L328.1,819.9 L328.5,817.3 L329.0,814.7 L329.5,812.2 L330.0,809.6 L330.5,807.1 L331.0,804.5 L331.5,801.9 L332.1,799.4 L332.6,796.8 L333.1,794.3 L333.7,791.7 L334.2,789.2 L334.8,786.7 L335.4,784.1 L336.0,781.6 L336.5,779.0 L337.1,776.5 L337.7,773.9 L338.3,771.4 L338.9,768.9 L339.5,766.3 L340.2,763.8 L340.8,761.3 L341.4,758.7 L342.1,756.2 L342.7,753.7 L343.4,751.2 L344.0,748.6 L344.7,746.1 L345.3,743.6 L346.0,741.1 L346.7,738.5 L347.4,736.0 L348.0,733.5 L348.7,731.0 L349.4,728.5 L350.1,726.0 L350.8,723.4 L351.5,720.9 L352.2,718.4 L353.0,715.9 L353.7,713.4 L354.4,710.9 L355.1,708.4 L355.9,705.9 L356.6,703.4 L357.3,700.8 L358.1,698.3 L358.8,695.8 L359.6,693.3 L360.3,690.8 L361.1,688.3 L361.8,685.8 L362.6,683.3 L363.4,680.8 L364.1,678.3 L364.9,675.8 L365.7,673.3 L366.5,670.9 L367.3,668.4 L368.1,665.9 L368.9,663.4 L369.7,660.9 L370.6,658.4 L371.4,656.0 L372.3,653.5 L373.1,651.0 L374.0,648.6 L374.9,646.1 L375.7,643.7 L376.6,641.2 L377.5,638.8 L378.5,636.3 L379.4,633.9 L380.3,631.5 L381.3,629.0 L382.3,626.6 L383.2,624.2 L384.2,621.8 L385.2,619.4 L386.3,617.0 L387.3,614.6 L388.4,612.2 L389.4,609.8 L390.5,607.5 L391.6,605.1 L392.7,602.7 L393.9,600.4 L395.0,598.1 L396.2,595.7 L397.4,593.4 L398.5,591.1 L399.8,588.8 L401.0,586.5 L402.2,584.2 L403.5,581.9 L404.8,579.6 L406.1,577.3 L407.4,575.1 L408.7,572.8 L410.1,570.6 L411.4,568.4 L412.8,566.1 L414.2,563.9 L415.6,561.7 L417.0,559.5 L418.4,557.4 L419.9,555.2 L421.3,553.0 L422.8,550.9 L424.3,548.7 L425.8,546.6 L427.3,544.5 L428.8,542.4 L430.4,540.3 L431.9,538.2 L433.5,536.1 L435.1,534.0 L436.7,531.9 L438.3,529.9 L439.9,527.8 L441.5,525.8 L443.2,523.8 L444.9,521.8 L446.6,519.9 L448.4,517.9 L450.2,516.1 L452.0,514.2 L453.9,512.4 L455.8,510.7 L457.8,508.9 L459.8,507.3 L461.8,505.6 L463.9,504.0 L466.0,502.4 L468.1,500.9 L470.2,499.4 L472.4,498.0 L474.6,496.5 L476.8,495.1 L479.0,493.7 L481.2,492.3 L483.4,490.9 L485.5,489.5 L487.7,488.0 L489.7,486.4 L491.8,484.8 L493.8,483.1 L495.8,481.4 L497.8,479.7 L499.7,478.0 L501.7,476.3 L503.7,474.6 L505.7,473.0 L507.7,471.3 L509.7,469.6 L511.8,468.0 L513.8,466.4 L515.9,464.8 L517.9,463.1 L519.8,461.4 L521.8,459.7 L523.7,457.9 L525.6,456.1 L527.5,454.3 L529.4,452.5 L531.2,450.7 L533.1,448.9 L535.0,447.1 L536.9,445.3 L538.8,443.5 L540.7,441.7 L542.7,440.0 L544.6,438.3 L546.6,436.6 L548.7,434.9 L550.7,433.3 L552.8,431.7 L554.8,430.1 L556.9,428.5 L559.0,427.0 L561.1,425.5 L563.3,424.0 L565.4,422.5 L567.5,421.0 L569.7,419.5 L571.9,418.1 L574.1,416.7 L576.3,415.2 L578.5,413.9 L580.7,412.5 L582.9,411.1 L585.2,409.8 L587.4,408.4 L589.7,407.1 L591.9,405.8 L594.2,404.6 L596.5,403.3 L598.8,402.0 L601.1,400.8 L603.4,399.6 L605.7,398.4 L608.0,397.2 L610.3,396.0 L612.6,394.8 L615.0,393.6 L617.3,392.5 L619.7,391.4 L622.0,390.2 L624.4,389.1 L626.8,388.0 L629.1,386.9 L631.5,385.9 L633.9,384.8 L636.3,383.7 L638.7,382.7 L641.0,381.6 L643.4,380.6 L645.8,379.5 L648.2,378.5 L650.6,377.5 L653.0,376.5 L655.5,375.5 L657.9,374.5 L660.3,373.5 L662.7,372.5 L665.1,371.5 L667.5,370.5 L669.9,369.6 L672.4,368.6 L674.8,367.6 L677.2,366.7 L679.7,365.7 L682.1,364.8 L684.5,363.8 L687.0,362.9 L689.4,362.0 L691.8,361.1 L694.3,360.1 L696.7,359.2 L699.2,358.3 L701.6,357.4 L704.1,356.5 L706.5,355.7 L709.0,354.8 L711.4,353.9 L713.9,353.0 L716.4,352.2 L718.8,351.3 L721.3,350.5 L723.8,349.6 L726.3,348.8 L728.7,348.0 L731.2,347.2 L733.7,346.3 L736.2,345.5 L738.6,344.7 L741.1,343.9 L743.6,343.1 L746.1,342.4 L748.6,341.6 L751.1,340.8 L753.6,340.0 L756.1,339.3 L758.6,338.5 L761.1,337.8 L763.6,337.0 L766.1,336.3 L768.6,335.6 L771.1,334.8 L773.6,334.1 L776.1,333.4 L778.6,332.7 L781.1,332.0 L783.7,331.3 L786.2,330.6 L788.7,329.9 L791.2,329.2 L793.7,328.6 L796.3,327.9 L798.8,327.3 L801.3,326.6 L803.8,325.9 L806.4,325.3 L808.9,324.7 L811.4,324.0 L814.0,323.4 L816.5,322.8 L819.0,322.2 L821.6,321.6 L824.1,321.0 L826.6,320.4 L829.2,319.8 L831.7,319.2 L834.3,318.6 L836.8,318.0 L839.4,317.5 L841.9,316.9 L844.5,316.4 L847.0,315.8 L849.6,315.3 L852.1,314.7 L854.7,314.2 L857.2,313.7 L859.8,313.1 L862.3,312.6 L864.9,312.1 L867.5,311.6 L870.0,311.1 L872.6,310.6 L875.1,310.1 L877.7,309.6 L880.3,309.1 L882.8,308.6 L885.4,308.2 L888.0,307.7 L890.5,307.2 L893.1,306.7 L895.7,306.3 L898.2,305.8 L900.8,305.4 L903.4,304.9 L905.9,304.5 L908.5,304.0 L911.1,303.6 L913.7,303.1 L916.2,302.7 L918.8,302.2 L921.4,301.8 L923.9,301.4 L926.5,300.9 L929.1,300.5 L931.7,300.1 L934.2,299.7 L936.8,299.3 L939.4,298.8 L942.0,298.4 L944.5,298.0 L947.1,297.6 L949.7,297.2 L952.3,296.8 L954.9,296.4 L957.4,296.0 L960.0,295.6 L962.6,295.2 L965.2,294.8 L967.8,294.4 L970.3,294.0 L972.9,293.6 L975.5,293.3 L978.1,292.9 L980.7,292.5 L983.2,292.1 L985.8,291.7 L988.4,291.4 L991.0,291.0 L993.6,290.6 L996.2,290.2 L998.7,289.9 L1001.3,289.5 L1003.9,289.1 L1006.5,288.8 L1009.1,288.4 L1011.7,288.0 L1014.2,287.7 L1016.8,287.3 L1019.4,287.0 L1022.0,286.6 L1024.6,286.3 L1027.2,285.9 L1029.8,285.6 L1032.3,285.2 L1034.9,284.9 L1037.5,284.5 L1040.1,284.2 L1042.7,283.8 L1045.3,283.5 L1047.9,283.2 L1050.4,282.8 L1053.0,282.5 L1055.6,282.2 L1058.2,281.8 L1060.8,281.5 L1063.4,281.2 L1066.0,280.9 L1068.6,280.5 L1071.2,280.2 L1073.7,279.9 L1076.3,279.6 L1078.9,279.3 L1081.5,279.0 L1084.1,278.6 L1086.7,278.3 L1089.3,278.0 L1091.9,277.7 L1094.5,277.4 L1097.1,277.1 L1099.7,276.8 L1102.3,276.5 L1104.8,276.2 L1107.4,275.9 L1110.0,275.7 L1112.6,275.4 L1115.2,275.1 L1117.8,274.8 L1120.4,274.5 L1123.0,274.2 L1125.6,274.0 L1128.2,273.7 L1130.8,273.4 L1133.4,273.1 L1136.0,272.9 L1138.6,272.6 L1141.2,272.3 L1143.8,272.1 L1146.4,271.8 L1149.0,271.5 L1151.6,271.3 L1154.1,271.0 L1156.7,270.8 L1159.3,270.5 L1161.9,270.3 L1164.5,270.0 L1167.1,269.8 L1169.7,269.5 L1172.3,269.3 L1174.9,269.0 L1177.5,268.8 L1180.1,268.5 L1182.7,268.3 L1185.3,268.1 L1187.9,267.8 L1190.5,267.6 L1193.1,267.3 L1195.7,267.1 L1198.3,266.9 L1200.9,266.7 L1203.5,266.4 L1206.1,266.2 L1208.7,266.0 L1211.3,265.8 L1213.9,265.5 L1216.5,265.3 L1219.1,265.1 L1221.7,264.9 L1224.3,264.7 L1226.9,264.4 L1229.5,264.2 L1232.1,264.0 L1234.7,263.8 L1237.3,263.6 L1239.9,263.4 L1242.5,263.2 L1245.1,263.0 L1247.7,262.8 L1250.3,262.6 L1252.9,262.4 L1255.5,262.2 L1258.1,262.0 L1260.7,261.8 L1263.3,261.6 L1265.9,261.4 L1268.5,261.2 L1271.1,261.0 L1273.7,260.8 L1276.3,260.6 L1278.9,260.4 L1281.6,260.2 L1284.2,260.0 L1286.8,259.8 L1289.4,259.7 L1292.0,259.5 L1294.6,259.3 L1297.2,259.1 L1299.8,258.9 L1302.4,258.8 L1305.0,258.6 L1307.6,258.4 L1310.2,258.2 L1312.8,258.0 L1315.4,257.9 L1318.0,257.7 L1320.6,257.5 L1323.2,257.3 L1325.8,257.2 L1328.4,257.0 L1331.0,256.8 L1333.6,256.7 L1336.2,256.5 L1338.8,256.3 L1341.4,256.2 L1344.0,256.0 L1346.6,255.8 L1349.2,255.7 L1351.8,255.5 L1354.5,255.4 L1357.1,255.2 L1359.7,255.0 L1362.3,254.9 L1364.9,254.7 L1367.5,254.6 L1370.1,254.4 L1372.7,254.2 L1375.3,254.1 L1377.9,253.9 L1380.5,253.8 L1383.1,253.6 L1385.7,253.5 L1388.3,253.3 L1390.9,253.2 L1393.5,253.0 L1396.1,252.9 L1398.7,252.7 L1401.3,252.6 L1403.9,252.4 L1406.5,252.3 L1409.2,252.2 L1411.8,252.0 L1414.4,251.9 L1417.0,251.7 L1419.6,251.6 L1422.2,251.4 L1424.8,251.3 L1427.4,251.2 L1430.0,251.0 L1432.6,250.9 L1435.2,250.8 L1437.8,250.6 L1440.4,250.5 L1443.0,250.4 L1445.6,250.2 L1448.2,250.1 L1450.8,249.9 L1453.5,249.8 L1456.1,249.7 L1458.7,249.6 L1461.3,249.4 L1463.9,249.3 L1466.5,249.2 L1469.1,249.0 L1471.7,248.9 L1474.3,248.8 L1476.9,248.6 L1479.5,248.5 L1482.1,248.4 L1484.7,248.3 L1487.3,248.1 L1489.9,248.0 L1492.5,247.9 L1495.2,247.8 L1497.8,247.6 L1500.4,247.5 L1503.0,247.4 L1505.6,247.3 L1508.2,247.2 L1510.8,247.0 L1513.4,246.9 L1516.0,246.8 L1518.6,246.7 L1521.2,246.6 L1523.8,246.4 L1526.4,246.3 L1529.0,246.2 L1531.6,246.1 L1534.3,246.0 L1536.9,245.9 L1539.5,245.7 L1542.1,245.6 L1544.7,245.5 L1547.3,245.4 L1549.9,245.3 L1552.5,245.2 L1555.1,245.0 L1557.7,244.9 L1560.3,244.8 L1562.9,244.7 L1565.5,244.6 L1568.1,244.5 L1570.8,244.4 L1573.4,244.2 L1576.0,244.1 L1578.6,244.0 L1581.2,243.9 L1583.8,243.8 L1586.4,243.7 L1589.0,243.6 L1591.6,243.5 L1594.2,243.4 L1596.8,243.2 L1599.4,243.1 L1602.0,243.0 L1604.6,242.9 L1607.2,242.8 L1609.9,242.7 L1612.5,242.6 L1615.1,242.5 L1617.7,242.4 L1620.3,242.3 L1622.9,242.2 L1625.5,242.0 L1628.1,241.9 L1630.7,241.8 L1633.3,241.7 L1635.9,241.6 L1638.5,241.5 L1641.1,241.4 L1643.7,241.3 L1646.4,241.2 L1649.0,241.1 L1651.6,241.0 L1654.2,240.9 L1656.8,240.8 L1659.4,240.6 L1662.0,240.5"/>
<path stroke="#0000ff" stroke-width="3.1" d="M286.6,1038.0 L288.9,1037.9 L291.3,1037.7 L293.7,1037.4 L296.0,1036.8 L298.2,1035.9 L300.0,1034.7 L301.6,1033.1 L303.0,1031.3 L304.2,1029.3 L305.3,1027.2 L306.3,1025.1 L307.4,1023.0 L308.4,1020.8 L309.3,1018.7 L310.2,1016.5 L311.1,1014.4 L312.0,1012.2 L312.9,1010.0 L313.7,1007.8 L314.5,1005.6 L315.3,1003.4 L316.1,1001.2 L316.8,999.0 L317.6,996.8 L318.3,994.6 L319.0,992.4 L319.7,990.1 L320.4,987.9 L321.1,985.7 L321.7,983.4 L322.4,981.2 L323.0,978.9 L323.7,976.7 L324.3,974.4 L325.0,972.2 L325.6,969.9 L326.3,967.7 L326.9,965.4 L327.6,963.2 L328.3,960.9 L328.9,958.7 L329.6,956.5 L330.3,954.2 L331.0,952.0 L331.7,949.8 L332.4,947.5 L333.1,945.3 L333.8,943.1 L334.6,940.9 L335.3,938.6 L336.1,936.4 L336.8,934.2 L337.6,932.0 L338.3,929.8 L339.1,927.6 L339.9,925.4 L340.7,923.2 L341.5,921.0 L342.3,918.8 L343.1,916.6 L343.9,914.4 L344.7,912.2 L345.5,910.0 L346.3,907.8 L347.1,905.6 L347.9,903.4 L348.7,901.2 L349.5,899.0 L350.3,896.8 L351.2,894.6 L352.0,892.4 L352.8,890.2 L353.6,888.0 L354.4,885.8 L355.2,883.6 L356.1,881.4 L356.9,879.2 L357.7,877.0 L358.5,874.9 L359.4,872.7 L360.2,870.5 L361.1,868.3 L361.9,866.1 L362.8,864.0 L363.7,861.8 L364.5,859.6 L365.4,857.5 L366.3,855.3 L367.3,853.2 L368.2,851.0 L369.1,848.9 L370.1,846.7 L371.0,844.6 L372.0,842.5 L373.0,840.4 L374.0,838.2 L375.0,836.1 L376.0,834.0 L377.1,831.9 L378.1,829.8 L379.2,827.8 L380.2,825.7 L381.3,823.6 L382.4,821.5 L383.5,819.5 L384.6,817.4 L385.7,815.4 L386.8,813.3 L388.0,811.3 L389.1,809.2 L390.3,807.2 L391.4,805.2 L392.6,803.2 L393.8,801.1 L395.0,799.1 L396.2,797.1 L397.4,795.1 L398.6,793.1 L399.9,791.2 L401.1,789.2 L402.4,787.2 L403.6,785.2 L404.9,783.3 L406.2,781.3 L407.5,779.4 L408.8,777.4 L410.1,775.5 L411.4,773.6 L412.8,771.6 L414.1,769.7 L415.4,767.8 L416.8,765.9 L418.2,764.0 L419.5,762.1 L420.9,760.2 L422.3,758.3 L423.7,756.4 L425.1,754.6 L426.5,752.7 L428.0,750.8 L429.4,749.0 L430.9,747.2 L432.3,745.3 L433.8,743.5 L435.2,741.7 L436.7,739.9 L438.2,738.0 L439.7,736.3 L441.2,734.5 L442.7,732.7 L444.3,730.9 L445.8,729.1 L447.4,727.4 L448.9,725.6 L450.5,723.9 L452.1,722.2 L453.7,720.5 L455.3,718.7 L456.9,717.0 L458.5,715.4 L460.1,713.7 L461.7,712.0 L463.4,710.3 L465.0,708.7 L466.7,707.1 L468.4,705.4 L470.1,703.8 L471.8,702.2 L473.5,700.6 L475.2,699.0 L476.9,697.4 L478.7,695.8 L480.4,694.3 L482.2,692.7 L483.9,691.2 L485.7,689.7 L487.5,688.1 L489.2,686.6 L491.0,685.1 L492.8,683.6 L494.6,682.1 L496.4,680.6 L498.3,679.2 L500.1,677.7 L501.9,676.3 L503.8,674.8 L505.6,673.4 L507.5,671.9 L509.3,670.5 L511.2,669.1 L513.1,667.7 L515.0,666.3 L516.8,664.9 L518.7,663.6 L520.6,662.2 L522.5,660.8 L524.4,659.5 L526.4,658.1 L528.3,656.8 L530.2,655.5 L532.1,654.1 L534.1,652.8 L536.0,651.5 L538.0,650.2 L539.9,648.9 L541.9,647.6 L543.8,646.4 L545.8,645.1 L547.8,643.9 L549.8,642.6 L551.7,641.4 L553.7,640.1 L555.7,638.9 L557.7,637.7 L559.7,636.5 L561.7,635.3 L563.7,634.1 L565.8,632.9 L567.8,631.7 L569.8,630.5 L571.8,629.4 L573.9,628.2 L575.9,627.1 L577.9,625.9 L580.0,624.8 L582.0,623.7 L584.1,622.5 L586.2,621.4 L588.2,620.3 L590.3,619.2 L592.4,618.1 L594.4,617.0 L596.5,616.0 L598.6,614.9 L600.7,613.8 L602.8,612.8 L604.9,611.8 L607.0,610.7 L609.1,609.7 L611.2,608.7 L613.3,607.6 L615.4,606.6 L617.5,605.6 L619.6,604.6 L621.7,603.6 L623.9,602.7 L626.0,601.7 L628.1,600.7 L630.2,599.7 L632.4,598.8 L634.5,597.8 L636.6,596.9 L638.8,595.9 L640.9,595.0 L643.1,594.0 L645.2,593.1 L647.4,592.2 L649.5,591.2 L651.7,590.3 L653.8,589.4 L656.0,588.5 L658.1,587.6 L660.3,586.6 L662.4,585.7 L664.6,584.8 L666.8,583.9 L668.9,583.0 L671.1,582.2 L673.2,581.3 L675.4,580.4 L677.6,579.5 L679.8,578.6 L681.9,577.8 L684.1,576.9 L686.3,576.0 L688.5,575.2 L690.6,574.3 L692.8,573.5 L695.0,572.6 L697.2,571.8 L699.4,571.0 L701.6,570.1 L703.7,569.3 L705.9,568.5 L708.1,567.7 L710.3,566.8 L712.5,566.0 L714.7,565.2 L716.9,564.4 L719.1,563.6 L721.3,562.8 L723.5,562.0 L725.7,561.3 L727.9,560.5 L730.1,559.7 L732.3,558.9 L734.6,558.2 L736.8,557.4 L739.0,556.7 L741.2,555.9 L743.4,555.2 L745.6,554.4 L747.9,553.7 L750.1,552.9 L752.3,552.2 L754.5,551.5 L756.8,550.8 L759.0,550.0 L761.2,549.3 L763.4,548.6 L765.7,547.9 L767.9,547.2 L770.1,546.5 L772.4,545.8 L774.6,545.2 L776.9,544.5 L779.1,543.8 L781.3,543.1 L783.6,542.5 L785.8,541.8 L788.1,541.2 L790.3,540.5 L792.6,539.9 L794.8,539.2 L797.1,538.6 L799.3,537.9 L801.6,537.3 L803.8,536.7 L806.1,536.1 L808.3,535.5 L810.6,534.8 L812.9,534.2 L815.1,533.6 L817.4,533.0 L819.7,532.4 L821.9,531.8 L824.2,531.3 L826.4,530.7 L828.7,530.1 L831.0,529.5 L833.3,529.0 L835.5,528.4 L837.8,527.8 L840.1,527.3 L842.3,526.7 L844.6,526.2 L846.9,525.6 L849.2,525.1 L851.4,524.5 L853.7,524.0 L856.0,523.4 L858.3,522.9 L860.6,522.4 L862.8,521.9 L865.1,521.3 L867.4,520.8 L869.7,520.3 L872.0,519.8 L874.2,519.3 L876.5,518.8 L878.8,518.3 L881.1,517.8 L883.4,517.3 L885.7,516.8 L888.0,516.3 L890.3,515.8 L892.5,515.3 L894.8,514.8 L897.1,514.3 L899.4,513.9 L901.7,513.4 L904.0,512.9 L906.3,512.4 L908.6,512.0 L910.9,511.5 L913.2,511.0 L915.5,510.6 L917.8,510.1 L920.1,509.7 L922.3,509.2 L924.6,508.7 L926.9,508.3 L929.2,507.8 L931.5,507.4 L933.8,506.9 L936.1,506.5 L938.4,506.1 L940.7,505.6 L943.0,505.2 L945.3,504.7 L947.6,504.3 L949.9,503.9 L952.2,503.4 L954.5,503.0 L956.8,502.6 L959.1,502.1 L961.4,501.7 L963.7,501.3 L966.0,500.9 L968.3,500.5 L970.6,500.0 L972.9,499.6 L975.2,499.2 L977.5,498.8 L979.8,498.4 L982.1,497.9 L984.4,497.5 L986.7,497.1 L989.0,496.7 L991.4,496.3 L993.7,495.9 L996.0,495.5 L998.3,495.1 L1000.6,494.7 L1002.9,494.3 L1005.2,493.9 L1007.5,493.5 L1009.8,493.0 L1012.1,492.6 L1014.4,492.2 L1016.7,491.8 L1019.0,491.4 L1021.3,491.0 L1023.6,490.6 L1025.9,490.3 L1028.2,489.9 L1030.5,489.5 L1032.8,489.1 L1035.2,488.7 L1037.5,488.3 L1039.8,487.9 L1042.1,487.5 L1044.4,487.1 L1046.7,486.7 L1049.0,486.3 L1051.3,485.9 L1053.6,485.5 L1055.9,485.1 L1058.2,484.8 L1060.5,484.4 L1062.8,484.0 L1065.2,483.6 L1067.5,483.2 L1069.8,482.8 L1072.1,482.4 L1074.4,482.1 L1076.7,481.7 L1079.0,481.3 L1081.3,480.9 L1083.6,480.5 L1085.9,480.1 L1088.2,479.8 L1090.5,479.4 L1092.9,479.0 L1095.2,478.6 L1097.5,478.2 L1099.8,477.9 L1102.1,477.5 L1104.4,477.1 L1106.7,476.7 L1109.0,476.3 L1111.3,476.0 L1113.6,475.6 L1115.9,475.2 L1118.3,474.8 L1120.6,474.5 L1122.9,474.1 L1125.2,473.7 L1127.5,473.3 L1129.8,473.0 L1132.1,472.6 L1134.4,472.2 L1136.7,471.9 L1139.0,471.5 L1141.4,471.1 L1143.7,470.7 L1146.0,470.4 L1148.3,470.0 L1150.6,469.6 L1152.9,469.3 L1155.2,468.9 L1157.5,468.5 L1159.8,468.2 L1162.2,467.8 L1164.5,467.4 L1166.8,467.1 L1169.1,466.7 L1171.4,466.3 L1173.7,466.0 L1176.0,465.6 L1178.3,465.2 L1180.6,464.9 L1183.0,464.5 L1185.3,464.1 L1187.6,463.8 L1189.9,463.4 L1192.2,463.1 L1194.5,462.7 L1196.8,462.3 L1199.1,462.0 L1201.5,461.6 L1203.8,461.3 L1206.1,460.9 L1208.4,460.5 L1210.7,460.2 L1213.0,459.8 L1215.3,459.5 L1217.6,459.1 L1220.0,458.8 L1222.3,458.4 L1224.6,458.1 L1226.9,457.7 L1229.2,457.4 L1231.5,457.0 L1233.8,456.7 L1236.2,456.3 L1238.5,456.0 L1240.8,455.6 L1243.1,455.3 L1245.4,454.9 L1247.7,454.6 L1250.0,454.3 L1252.4,453.9 L1254.7,453.6 L1257.0,453.2 L1259.3,452.9 L1261.6,452.6 L1263.9,452.2 L1266.3,451.9 L1268.6,451.6 L1270.9,451.2 L1273.2,450.9 L1275.5,450.6 L1277.8,450.2 L1280.2,449.9 L1282.5,449.6 L1284.8,449.3 L1287.1,448.9 L1289.4,448.6 L1291.7,448.3 L1294.1,448.0 L1296.4,447.6 L1298.7,447.3 L1301.0,447.0 L1303.3,446.7 L1305.7,446.4 L1308.0,446.1 L1310.3,445.8 L1312.6,445.5 L1314.9,445.2 L1317.3,444.8 L1319.6,444.5 L1321.9,444.2 L1324.2,443.9 L1326.5,443.6 L1328.9,443.3 L1331.2,443.0 L1333.5,442.7 L1335.8,442.5 L1338.1,442.2 L1340.5,441.9 L1342.8,441.6 L1345.1,441.3 L1347.4,441.0 L1349.8,440.7 L1352.1,440.4 L1354.4,440.1 L1356.7,439.9 L1359.0,439.6 L1361.4,439.3 L1363.7,439.0 L1366.0,438.8 L1368.3,438.5 L1370.7,438.2 L1373.0,437.9 L1375.3,437.7 L1377.6,437.4 L1380.0,437.1 L1382.3,436.9 L1384.6,436.6 L1386.9,436.3 L1389.3,436.1 L1391.6,435.8 L1393.9,435.6 L1396.2,435.3 L1398.6,435.0 L1400.9,434.8 L1403.2,434.5 L1405.5,434.3 L1407.9,434.0 L1410.2,433.8 L1412.5,433.5 L1414.9,433.3 L1417.2,433.1 L1419.5,432.8 L1421.8,432.6 L1424.2,432.3 L1426.5,432.1 L1428.8,431.9 L1431.1,431.6 L1433.5,431.4 L1435.8,431.1 L1438.1,430.9 L1440.5,430.7 L1442.8,430.5 L1445.1,430.2 L1447.4,430.0 L1449.8,429.8 L1452.1,429.5 L1454.4,429.3 L1456.8,429.1 L1459.1,428.9 L1461.4,428.6 L1463.8,428.4 L1466.1,428.2 L1468.4,428.0 L1470.7,427.8 L1473.1,427.6 L1475.4,427.3 L1477.7,427.1 L1480.1,426.9 L1482.4,426.7 L1484.7,426.5 L1487.1,426.3 L1489.4,426.1 L1491.7,425.9 L1494.0,425.6 L1496.4,425.4 L1498.7,425.2 L1501.0,425.0 L1503.4,424.8 L1505.7,424.6 L1508.0,424.4 L1510.4,424.2 L1512.7,424.0 L1515.0,423.8 L1517.4,423.6 L1519.7,423.4 L1522.0,423.2 L1524.4,423.0 L1526.7,422.8 L1529.0,422.6 L1531.4,422.4 L1533.7,422.2 L1536.0,422.0 L1538.3,421.8 L1540.7,421.6 L1543.0,421.4 L1545.3,421.3 L1547.7,421.1 L1550.0,420.9 L1552.3,420.7 L1554.7,420.5 L1557.0,420.3 L1559.3,420.1 L1561.7,419.9 L1564.0,419.7 L1566.3,419.6 L1568.7,419.4 L1571.0,419.2 L1573.3,419.0 L1575.7,418.8 L1578.0,418.6 L1580.3,418.4 L1582.7,418.3 L1585.0,418.1 L1587.3,417.9 L1589.7,417.7 L1592.0,417.5 L1594.3,417.3 L1596.7,417.2 L1599.0,417.0 L1601.3,416.8 L1603.7,416.6 L1606.0,416.4 L1608.3,416.3 L1610.7,416.1 L1613.0,415.9 L1615.3,415.7 L1617.7,415.5 L1620.0,415.4 L1622.3,415.2 L1624.7,415.0 L1627.0,414.8 L1629.3,414.7 L1631.7,414.5 L1634.0,414.3 L1636.3,414.1 L1638.7,414.0 L1641.0,413.8 L1643.3,413.6 L1645.7,413.4 L1648.0,413.3 L1650.3,413.1 L1652.7,412.9 L1655.0,412.7 L1657.3,412.5 L1659.7,412.4 L1662.0,412.2"/>
</g>
<g class="tick" text-anchor="middle">
<text x="286.5" y="1117">0</text>
<text x="515.7" y="1117">50</text>
<text x="744.8" y="1117">100</text>
<text x="974.0" y="1117">150</text>
<text x="1203.2" y="1117">200</text>
<text x="1432.3" y="1117">250</text>
<text x="1661.5" y="1117">300</text>
</g>
<g class="tick" text-anchor="end">
<text x="251.5" y="970.9">500</text>
<text x="251.5" y="769.5">1000</text>
<text x="251.5" y="568.1">1500</text>
<text x="251.5" y="366.7">2000</text>
<text x="251.5" y="165.3">2500</text>
</g>
<g class="ann">
<text x="1364.6" y="193.9">h=7mm</text>
<text x="1200.4" y="316.1">h=9mm</text>
<text x="1102.4" y="538">h=13mm</text>
<text x="692.6" y="438.2">T=1720K</text>
</g>
<text class="axl" x="853" y="1206.3">Time (s)</text>
<text class="axl" transform="translate(80.1,853.5) rotate(-90)" letter-spacing="0.5">Temperature (K)</text>
<text class="cap" y="1371.6"><tspan x="820.5" font-size="85">(</tspan><tspan x="848" font-size="90" font-weight="bold">b</tspan><tspan x="896" font-size="85">)</tspan></text>
</svg>
</body>
</html>
